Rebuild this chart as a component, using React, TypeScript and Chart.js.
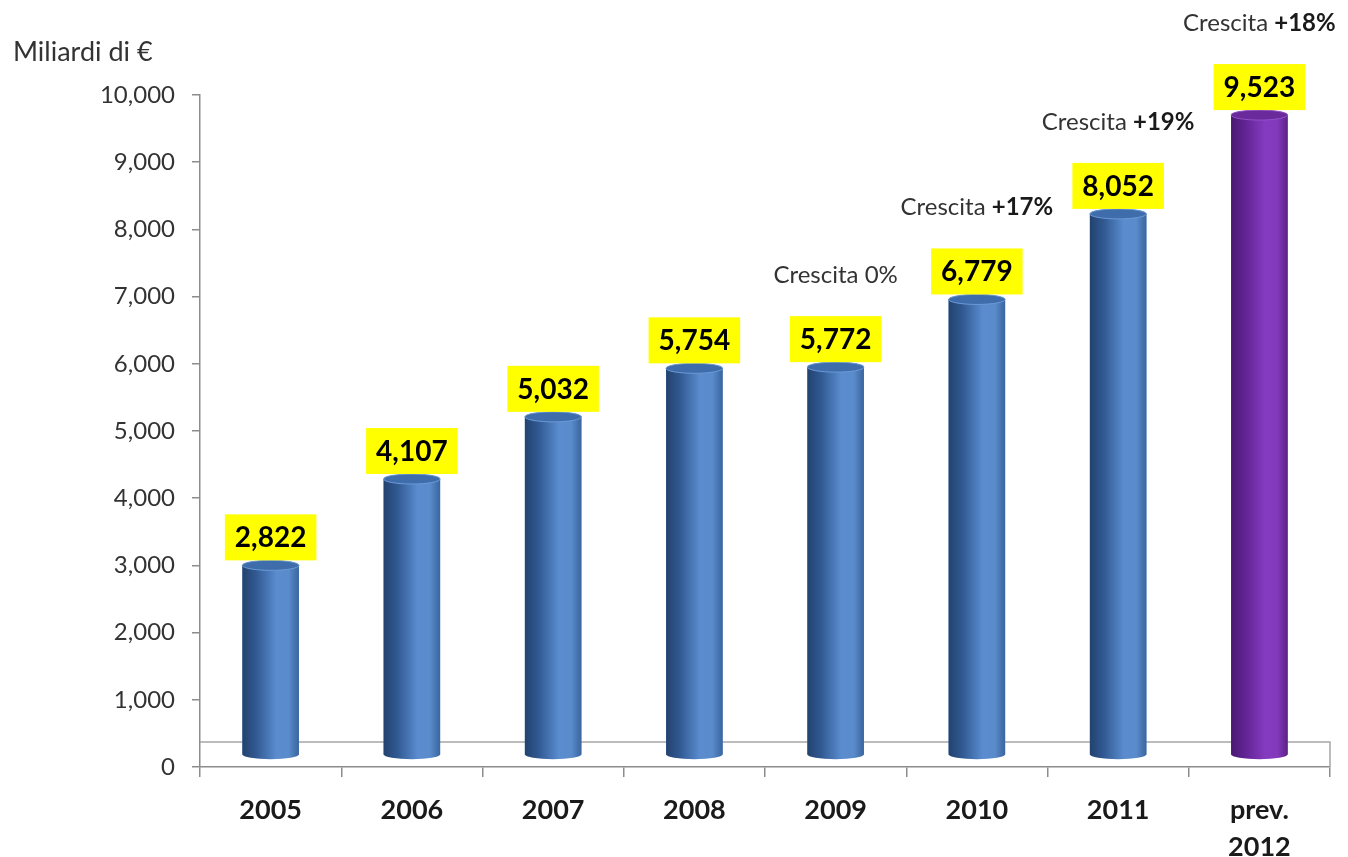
import React, { useEffect, useRef } from 'react';
import { Chart, registerables } from 'chart.js';

Chart.register(...registerables);

// ---- data ----
const categories: (string | string[])[] = ['2005', '2006', '2007', '2008', '2009', '2010', '2011', ['prev.', '2012']];
const values = [2822, 4107, 5032, 5754, 5772, 6779, 8052, 9523];
const valueLabels = ['2,822', '4,107', '5,032', '5,754', '5,772', '6,779', '8,052', '9,523'];
const growthText = ['', '', '', '', 'Crescita 0%', 'Crescita ', 'Crescita ', 'Crescita '];
const growthBold = ['', '', '', '', '', '+17%', '+19%', '+18%'];
const yMin = 0;
const yMax = 10000;
const yStep = 1000;
const yAxisTitle = 'Miliardi di €';

// ---- styles ----
const FONT = 'Lato';
const SHIFT = 12; // 3D depth offset of the bars
const FLOOR = 25; // depth of the floor
const CAP_RY = 5;
const barKinds = ['blue', 'blue', 'blue', 'blue', 'blue', 'blue', 'blue', 'purple'];
const palettes: Record<string, { base: string; stops: [number, string][]; cap: string; rim: string }> = {
  blue: {
    base: '#4F81BD',
    stops: [[0, '#23426F'], [0.25, '#315A93'], [0.6, '#5A8CCF'], [0.82, '#5A8BCB'], [1, '#3A659F']],
    cap: '#3F6DAB',
    rim: '#6C9AD6',
  },
  purple: {
    base: '#7030A0',
    stops: [[0, '#4A1872'], [0.25, '#612494'], [0.6, '#853BC0'], [0.82, '#8239BA'], [1, '#5C2188']],
    cap: '#6A2A9C',
    rim: '#9252C8',
  },
};

const cylinderPlugin = {
  id: 'cylinders',
  beforeDatasetsDraw(chart: any) {
    const { ctx, chartArea, scales } = chart;
    const y0 = scales.y.getPixelForValue(0);
    ctx.save();
    ctx.strokeStyle = '#A6A6A6';
    ctx.lineWidth = 1.5;
    ctx.beginPath();
    ctx.moveTo(chartArea.left, y0 - FLOOR);
    ctx.lineTo(chartArea.right, y0 - FLOOR);
    ctx.lineTo(chartArea.right, y0);
    ctx.stroke();
    ctx.restore();
    ctx.save();
    ctx.translate(0, -SHIFT);
  },
  afterDatasetsDraw(chart: any) {
    const { ctx } = chart;
    const meta = chart.getDatasetMeta(0);
    meta.data.forEach((bar: any, i: number) => {
      const p = palettes[barKinds[i]];
      const w = bar.width;
      const left = bar.x - w / 2;
      const right = bar.x + w / 2;
      const top = bar.y;
      const bottom = bar.base;
      const rx = w / 2;
      const g = ctx.createLinearGradient(left, 0, right, 0);
      p.stops.forEach(([o, c]) => g.addColorStop(o, c));
      ctx.beginPath();
      ctx.moveTo(left, top);
      ctx.lineTo(left, bottom);
      ctx.ellipse(bar.x, bottom, rx, CAP_RY, 0, Math.PI, 0, true);
      ctx.lineTo(right, top);
      ctx.ellipse(bar.x, top, rx, CAP_RY, 0, 0, Math.PI, true);
      ctx.closePath();
      ctx.fillStyle = g;
      ctx.fill();
      ctx.beginPath();
      ctx.ellipse(bar.x, top, rx, CAP_RY, 0, 0, Math.PI * 2);
      ctx.fillStyle = p.cap;
      ctx.fill();
      ctx.strokeStyle = p.rim;
      ctx.lineWidth = 1;
      ctx.stroke();
    });
    ctx.restore();
  },
  afterDraw(chart: any) {
    const { ctx } = chart;
    const meta = chart.getDatasetMeta(0);
    ctx.save();
    // axis title
    ctx.font = `27px ${FONT}`;
    ctx.fillStyle = '#333333';
    ctx.textAlign = 'left';
    ctx.textBaseline = 'middle';
    ctx.fillText(yAxisTitle, 13, 52);

    meta.data.forEach((bar: any, i: number) => {
      const topY = bar.y - SHIFT - CAP_RY;
      // value label box
      ctx.font = `bold 28px ${FONT}`;
      const tw = ctx.measureText(valueLabels[i]).width;
      const bw = tw + 20;
      const bh = 46;
      ctx.fillStyle = '#FFFF00';
      ctx.fillRect(bar.x - bw / 2, topY - bh, bw, bh);
      ctx.fillStyle = '#000000';
      ctx.textAlign = 'center';
      ctx.textBaseline = 'middle';
      ctx.fillText(valueLabels[i], bar.x, topY - bh / 2 + 1);

      // growth annotation
      if (growthText[i]) {
        const gy = bar.y - SHIFT - 92;
        ctx.font = `24px ${FONT}`;
        const w1 = ctx.measureText(growthText[i]).width;
        ctx.font = `bold 24px ${FONT}`;
        const w2 = growthBold[i] ? ctx.measureText(growthBold[i]).width : 0;
        const start = bar.x - (w1 + w2) / 2;
        ctx.textAlign = 'left';
        ctx.fillStyle = '#333333';
        ctx.font = `24px ${FONT}`;
        ctx.fillText(growthText[i], start, gy);
        if (growthBold[i]) {
          ctx.font = `bold 24px ${FONT}`;
          ctx.fillStyle = '#1A1A1A';
          ctx.fillText(growthBold[i], start + w1, gy);
        }
      }
    });
    ctx.restore();
  },
};

export default function App() {
  const ref = useRef<HTMLCanvasElement>(null);
  useEffect(() => {
    const chart = new Chart(ref.current as HTMLCanvasElement, {
      type: 'bar',
      data: {
        labels: categories as any,
        datasets: [
          {
            label: yAxisTitle,
            data: values,
            backgroundColor: barKinds.map((k) => palettes[k].base),
            barPercentage: 0.4,
            categoryPercentage: 1,
          },
        ],
      },
      options: {
        responsive: false,
        animation: false,
        layout: { padding: { top: 95, right: 18, left: 0, bottom: 0 } },
        plugins: {
          legend: { display: false },
          tooltip: { enabled: false },
        },
        scales: {
          x: {
            afterFit: (s: any) => {
              s.height = 90;
            },
            grid: {
              drawOnChartArea: false,
              drawTicks: true,
              tickLength: 10,
              color: '#8C8C8C',
              lineWidth: 1.5,
              offset: true,
            },
            border: { color: '#8C8C8C', width: 1.5 },
            ticks: {
              color: '#1A1A1A',
              padding: 14,
              font: { family: FONT, size: 27, weight: 'bold', lineHeight: 1.4 },
              maxRotation: 0,
              autoSkip: false,
            },
          },
          y: {
            min: yMin,
            max: yMax,
            afterFit: (s: any) => {
              s.width = 200;
            },
            grid: {
              drawOnChartArea: false,
              drawTicks: true,
              tickLength: 8,
              color: '#8C8C8C',
              lineWidth: 1.5,
            },
            border: { color: '#8C8C8C', width: 1.5 },
            ticks: {
              stepSize: yStep,
              color: '#333333',
              padding: 17,
              font: { family: FONT, size: 24 },
              callback: (v: any) => Number(v).toLocaleString('en-US'),
            },
          },
        },
      },
      plugins: [cylinderPlugin],
    });
    return () => chart.destroy();
  }, []);
  return (
    <div style={{ position: 'absolute', left: 0, top: 0, width: 1348, height: 857, background: '#ffffff' }}>
      <canvas ref={ref} width={1348} height={857} style={{ display: 'block' }} />
    </div>
  );
}
